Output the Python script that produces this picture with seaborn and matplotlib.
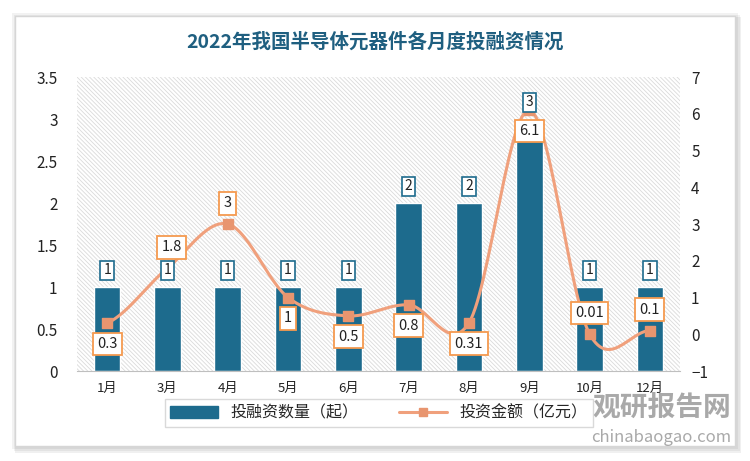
import matplotlib
matplotlib.use('Agg')
import matplotlib.pyplot as plt
import matplotlib.patches as mpatches
from matplotlib.lines import Line2D
import seaborn as sns
import pandas as pd
import numpy as np

# data
months = ['1月', '3月', '4月', '5月', '6月', '7月', '8月', '9月', '10月', '12月']
counts = [1, 1, 1, 1, 1, 2, 2, 3, 1, 1]
amounts = [0.3, 1.8, 3, 1, 0.5, 0.8, 0.31, 6.1, 0.01, 0.1]
amount_labels = ['0.3', '1.8', '3', '1', '0.5', '0.8', '0.31', '6.1', '0.01', '0.1']
label_above = [False, True, True, False, False, False, False, False, True, True]

sns.set_style('white')
plt.rcParams['font.family'] = ['Noto Sans CJK SC', 'DejaVu Sans']
plt.rcParams['hatch.linewidth'] = 0.6

bar_color = '#1d6b8d'
line_color = '#f0a07c'
box_orange = '#f59a4f'

fig = plt.figure(figsize=(7.5, 4.61), dpi=100)
fig.patch.set_facecolor('white')

# card panel with soft shadow
for i, a in enumerate([0.05, 0.05, 0.06]):
    fig.patches.append(mpatches.Rectangle((12/750 + i*0.002, 12/461 - i*0.004), 726/750, 436/461,
                                          transform=fig.transFigure, facecolor='#000000',
                                          alpha=a, edgecolor='none', zorder=-3))
fig.patches.append(mpatches.Rectangle((15/750, 15/461), 720/750, 430/461, transform=fig.transFigure,
                                      facecolor='white', edgecolor='#d6d6d6', lw=1, zorder=-2))

ax = fig.add_axes([77/750, 1 - 371/461, 603/750, 294/461])
ax.set_facecolor('white')
# hatched plot area
ax.add_patch(mpatches.Rectangle((0, 0), 1, 1, transform=ax.transAxes, facecolor='white',
                                edgecolor='#dadada', hatch='\\' * 8, lw=0, zorder=0))

df = pd.DataFrame({'月份': months, '数量': counts})
sns.barplot(data=df, x='月份', y='数量', color=bar_color, width=0.44, saturation=1,
            edgecolor='white', linewidth=1, ax=ax, zorder=2)
ax.set_ylim(0, 3.5)
ax.set_yticks(np.arange(0, 3.51, 0.5))
ax.set_yticklabels(['0', '0.5', '1', '1.5', '2', '2.5', '3', '3.5'])
ax.set_xlim(-0.5, len(months) - 0.5)
ax.set_xlabel('')
ax.set_ylabel('')
ax.tick_params(axis='both', length=0, labelsize=11, colors='#222222')
ax.tick_params(axis='x', pad=8, labelsize=9.5)
ax.tick_params(axis='y', pad=14)
for s in ['top', 'right', 'left']:
    ax.spines[s].set_visible(False)
ax.spines['bottom'].set_color('#bfbfbf')

# line on secondary axis, smoothed like Excel
ax2 = ax.twinx()
x = np.arange(len(amounts))
y = np.array(amounts, dtype=float)
xs, ys = [], []
for i in range(len(x) - 1):
    m0 = (y[i+1] - y[i-1]) / 2 if i > 0 else (y[1] - y[0]) / 2
    m1 = (y[i+2] - y[i]) / 2 if i + 2 < len(y) else (y[-1] - y[-2]) / 2
    t = np.linspace(0, 1, 30)
    h00 = 2*t**3 - 3*t**2 + 1
    h10 = t**3 - 2*t**2 + t
    h01 = -2*t**3 + 3*t**2
    h11 = t**3 - t**2
    xs.extend(x[i] + t)
    ys.extend(h00*y[i] + h10*m0 + h01*y[i+1] + h11*m1)
ax2.plot(xs, ys, color=line_color, lw=2.2, zorder=3)
ax2.scatter(x, y, marker='s', s=45, color='#e8956f', zorder=4)
ax2.set_ylim(-1, 7)
ax2.set_yticks(range(-1, 8))
ax2.tick_params(axis='y', length=0, labelsize=11, colors='#222222', pad=8)
for s in ['top', 'right', 'left', 'bottom']:
    ax2.spines[s].set_visible(False)

# bar labels drawn on top axes so they sit above the line
for i, c in enumerate(counts):
    ax2.annotate(str(c), (i, c), xycoords=ax.transData, xytext=(0, 12), textcoords='offset points',
                 ha='center', va='center', fontsize=10, color='#222222', zorder=6,
                 bbox=dict(boxstyle='square,pad=0.2', fc='white', ec=bar_color, lw=1.2))

for i, (v, lab, up) in enumerate(zip(amounts, amount_labels, label_above)):
    dy = 15 if up else -15
    dx = 3 if i == 1 else 0
    ax2.annotate(lab, (i, v), xytext=(dx, dy), textcoords='offset points', ha='center',
                 va='center', fontsize=10.5, color='#222222', zorder=7,
                 bbox=dict(boxstyle='square,pad=0.3', fc='white', ec=box_orange, lw=1.3))

# title
fig.text(0.5, 1 - 42/461, '2022年我国半导体元器件各月度投融资情况', ha='center', va='center',
         fontsize=14, color='#1f5f80', fontweight='bold')

# legend
handles = [mpatches.Patch(color=bar_color, label='投融资数量（起）'),
           Line2D([0], [0], color=line_color, lw=2.2, marker='s', markersize=6,
                  markerfacecolor='#e8956f', markeredgecolor='#e8956f', label='投资金额（亿元）')]
leg = fig.legend(handles=handles, loc='center', bbox_to_anchor=(0.505, 1 - 413/461), ncol=2,
                 frameon=True, fontsize=11.5, fancybox=False, edgecolor='#d0d0d0',
                 handlelength=3, columnspacing=2.5, borderpad=0.35)

# watermark
fig.text(0.975, 1 - 408/461, '观研报告网', ha='right', va='center', fontsize=20,
         color='#8c8c8c', alpha=0.75, fontweight='bold')
fig.text(0.975, 1 - 437/461, 'chinabaogao.com', ha='right', va='center', fontsize=12,
         color='#8c8c8c', alpha=0.75)

fig.savefig('out.png', dpi=100)
